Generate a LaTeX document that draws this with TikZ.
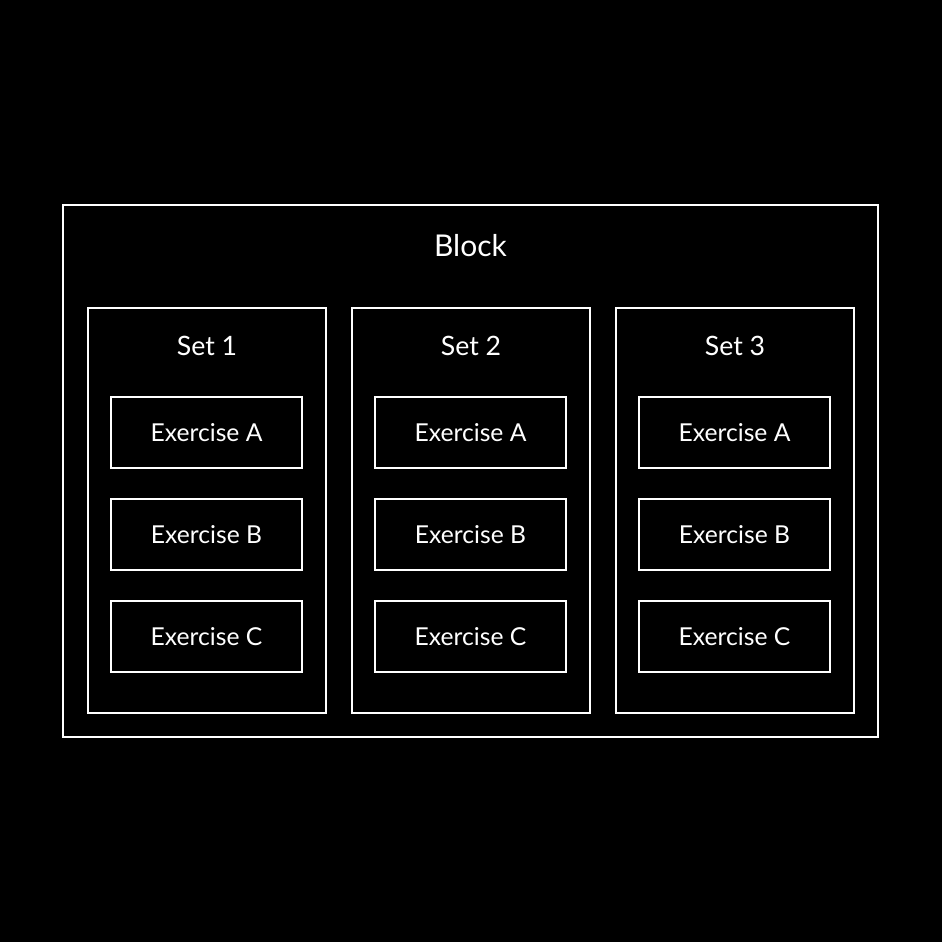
\documentclass[tikz,border=0pt]{standalone}
\usepackage{fontspec}
\setmainfont{Lato}
\begin{document}
\begin{tikzpicture}[x=0.75pt,y=-0.75pt,
  frame/.style={draw=white,line width=0.8pt,inner sep=0pt,rectangle},
  blockbox/.style={frame,minimum width=611.25pt,minimum height=399pt},
  setbox/.style={frame,minimum width=178.5pt,minimum height=303.75pt},
  exbox/.style={frame,minimum width=143.25pt,minimum height=53.25pt,text=white,font=\fontsize{18.5}{21}\selectfont},
  title/.style={text=white,inner sep=0pt,anchor=center},
]
\fill[black] (0,0) rectangle (942,942);
\useasboundingbox (0,0) rectangle (942,942);
\node[blockbox] (block) at (470.5,471) {};
\node[title,font=\fontsize{22.5}{25}\selectfont] (blocklabel) at (470.5,246) {Block};
\foreach \i/\x in {1/207,2/471,3/735}{
  \node[setbox] (set\i) at (\x,510.5) {};
  \node[title,font=\fontsize{20}{23}\selectfont] (setlabel\i) at (\x,346) {Set \i};
  \node[exbox] (ex\i a) at (\x-0.5,432.5) {Exercise A};
  \node[exbox] (ex\i b) at (\x-0.5,534.5) {Exercise B};
  \node[exbox] (ex\i c) at (\x-0.5,636.5) {Exercise C};
}
\end{tikzpicture}
\end{document}
